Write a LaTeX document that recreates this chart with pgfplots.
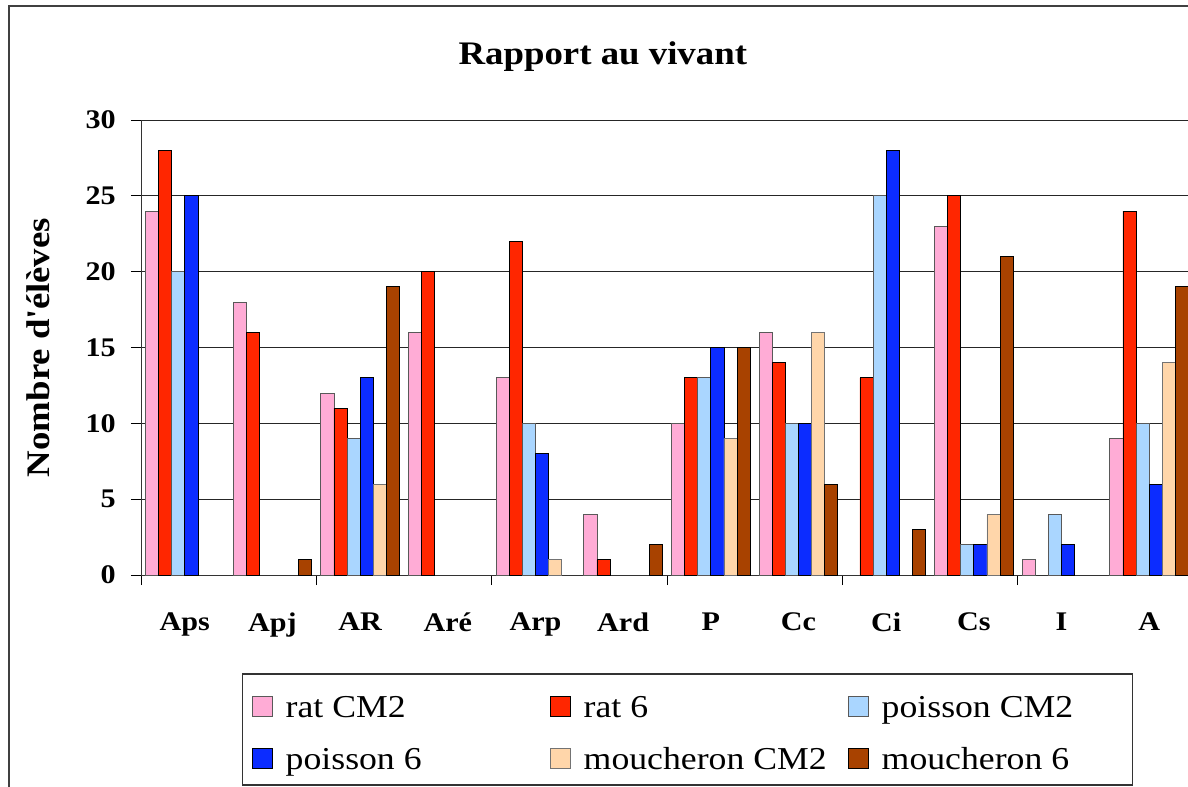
\documentclass[border=0pt]{standalone}
\usepackage{fontspec}
\setmainfont{Liberation Serif}[FakeStretch=1.12]
\usepackage{pgfplots}
\pgfplotsset{compat=1.18}

\definecolor{ratCM}{RGB}{255,172,214}
\definecolor{ratSix}{RGB}{255,38,0}
\definecolor{poisCM}{RGB}{170,214,255}
\definecolor{poisSix}{RGB}{12,44,255}
\definecolor{mouCM}{RGB}{255,214,170}
\definecolor{mouSix}{RGB}{168,66,0}

\newcommand{\lent}[2]{\makebox[#1][l]{\rule{0pt}{30bp}\smash{#2}}}

\begin{document}
\begin{tikzpicture}
\path[use as bounding box, clip] (0bp,0bp) rectangle (1188bp,-787bp);
\draw[line width=2bp, black!75] (9bp,-1000bp) -- (9bp,-6bp) -- (1300bp,-6bp);
\begin{axis}[
  at={(141bp,-575bp)}, anchor=south west,
  width=1052bp, height=455bp, scale only axis,
  xmin=-0.5, xmax=11.5, ymin=0, ymax=30,
  ybar=0pt, bar width=13.1bp,
  axis x line*=bottom, axis y line*=left,
  axis line style={line width=1bp, black!80},
  ymajorgrids, grid style={line width=1bp, black!85},
  ytick={0,5,...,30},
  tick align=outside, major tick length=10bp,
  tick style={line width=1bp, black},
  /pgf/number format/assume math mode=true,
  ticklabel style={font=\fontsize{27}{27}\selectfont\bfseries},
  yticklabel style={inner sep=0pt, xshift=-15bp},
  xtick={-0.5,1.5,3.5,5.5,7.5,9.5,11.5}, xticklabels={},
  extra x ticks={0,1,2,3,4,5,6,7,8,9,10,11},
  extra x tick labels={Aps,Apj,AR,Aré,Arp,Ard,P,Cc,Ci,Cs,I,A},
  extra x tick style={major tick length=0pt, xticklabel style={yshift=-34bp}},
  title={Rapport au vivant},
  title style={at={(axis description cs:0.439,1.1209)}, anchor=base, yshift=-5bp,
    font=\fontsize{33}{33}\selectfont\bfseries},
  ylabel={Nombre d\textquotesingle élèves},
  ylabel style={at={(axis description cs:-0.098,0.5)}, anchor=center,
    font=\fontsize{33}{33}\selectfont\bfseries},
  legend columns=3,
  legend style={at={(axis description cs:0.0960,-0.2154)}, anchor=north west,
    draw=black!80, line width=1.5bp, inner xsep=9bp, inner ysep=14bp,
    row sep=20bp, font=\fontsize{32}{32}\selectfont,
    /tikz/every odd column/.append style={column sep=13bp},
    /tikz/every even column/.append style={column sep=16bp},
    nodes={inner sep=0pt}},
  legend image code/.code={\draw[#1, line width=1bp] (0bp,-13bp) rectangle (20bp,7bp);},
]
\addplot[fill=ratCM, draw=black!65, line width=0.8bp] coordinates
  {(0,24)(1,18)(2,12)(3,16)(4,13)(5,4)(6,10)(7,16)(9,23)(10,1)(11,9)};
\addplot[fill=ratSix, draw=black, line width=0.8bp] coordinates
  {(0,28)(1,16)(2,11)(3,20)(4,22)(5,1)(6,13)(7,14)(8,13)(9,25)(11,24)};
\addplot[fill=poisCM, draw=black!65, line width=0.8bp] coordinates
  {(0,20)(2,9)(4,10)(6,13)(7,10)(8,25)(9,2)(10,4)(11,10)};
\addplot[fill=poisSix, draw=black, line width=0.8bp] coordinates
  {(0,25)(2,13)(4,8)(6,15)(7,10)(8,28)(9,2)(10,2)(11,6)};
\addplot[fill=mouCM, draw=black!55, line width=0.8bp] coordinates
  {(2,6)(4,1)(6,9)(7,16)(9,4)(11,14)};
\addplot[fill=mouSix, draw=black, line width=0.8bp] coordinates
  {(1,1)(2,19)(5,2)(6,15)(7,6)(8,3)(9,21)(11,19)};
\addlegendentry{\lent{248bp}{rat CM2}}
\addlegendentry{\lent{248bp}{rat 6}}
\addlegendentry{\lent{242bp}{poisson CM2}}
\addlegendentry{\lent{248bp}{poisson 6}}
\addlegendentry{\lent{248bp}{moucheron CM2}}
\addlegendentry{\lent{242bp}{moucheron 6}}
\end{axis}
\end{tikzpicture}
\end{document}
